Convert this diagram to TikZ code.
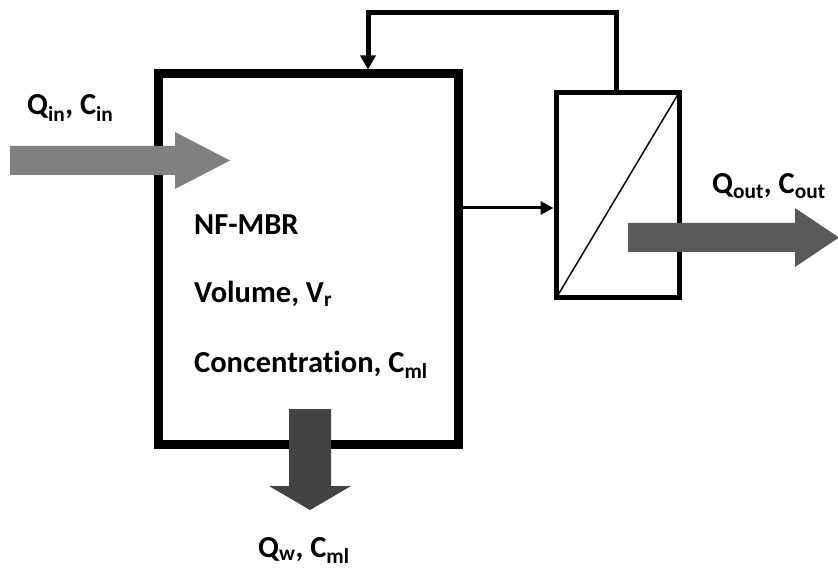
\documentclass[tikz,border=0pt]{standalone}
\usepackage{fontspec}
\setmainfont{Carlito}[Ligatures=NoCommon]
\usetikzlibrary{arrows.meta, positioning}
\definecolor{inflow}{HTML}{808080}
\definecolor{outflow}{HTML}{595959}
\definecolor{wasteflow}{HTML}{434343}
\tikzset{
  tank/.style={rectangle,draw,line width=9pt,minimum width=300pt,minimum height=370pt},
  module/.style={rectangle,draw,line width=5pt,minimum width=123pt,minimum height=205pt},
  label/.style={font=\fontsize{30.5}{36}\selectfont\bfseries,inner sep=0pt},
  line/.style={line width=3pt,-{Triangle[length=13pt,width=13pt]}},
  recycle/.style={line width=5pt,-{Triangle[length=14pt,width=15pt]}}
}
\begin{document}
\begin{tikzpicture}[x=1pt,y=-1pt]
\useasboundingbox (0,0) rectangle (838,569);
\node[tank] (tank) at (308,259) {};
\node[module] (mod) at (617.5,195.5) {};
\draw[line width=1.5pt] ([shift={(3pt,3pt)}]mod.south west) -- ([shift={(-3pt,-3pt)}]mod.north east);
\coordinate (rtop) at (616,13);
\coordinate (rleft) at (368,13);
\draw[recycle] (mod.north -| rtop) -- (rtop) -- (rleft) -- (tank.north -| rleft);
\draw[line] (tank.east |- 0,208) -- (mod.west |- 0,208);
% flow arrows
\fill[inflow] (10,146) -- (175,146) -- (175,132) -- (230,160.5) -- (175,189) -- (175,175) -- (10,175) -- cycle;
\fill[outflow] (628,223) -- (795,223) -- (795,208) -- (839,237.5) -- (795,267) -- (795,252) -- (628,252) -- cycle;
\fill[wasteflow] (289,409) -- (331,409) -- (331,486) -- (351,486) -- (310,510) -- (269,486) -- (289,486) -- cycle;
% labels
\node[label,anchor=base west] (qin) at (27,115) {Q\textsubscript{in}, C\textsubscript{in}};
\node[label,anchor=base west] (qout) at (712,194) {Q\textsubscript{out}, C\textsubscript{out}};
\node[label,anchor=base west] (qw) at (258,557) {Q\textsubscript{w}, C\textsubscript{ml}};
\node[label,anchor=base west] (name) at (194,235) {NF-MBR};
\node[label,anchor=base west] (vol) at (194,303) {Volume, V\textsubscript{r}};
\node[label,anchor=base west] (conc) at (194,372) {Concentration, C\textsubscript{ml}};
\end{tikzpicture}
\end{document}
